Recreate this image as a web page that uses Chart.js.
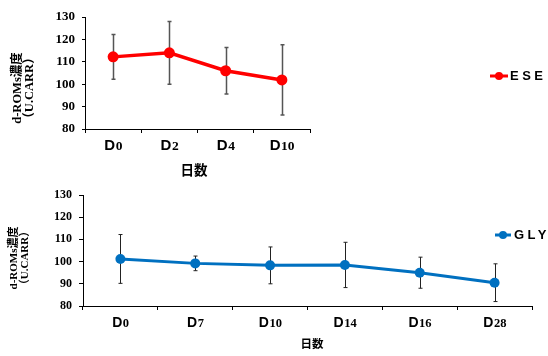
<!DOCTYPE html>
<html>
<head>
<meta charset="utf-8">
<script src="https://cdn.jsdelivr.net/npm/chart.js@4.4.1/dist/chart.umd.min.js"></script>
<style>
  html, body { margin: 0; padding: 0; background: #fff; }
  #wrap { position: relative; width: 548px; height: 356px; overflow: hidden; }
  .box { position: absolute; left: 0; }
</style>
</head>
<body>
<div id="wrap">
  <div class="box" style="top:0"><canvas id="ese" width="548" height="180"></canvas></div>
  <div class="box" style="top:180px"><canvas id="gly" width="548" height="176"></canvas></div>
</div>
<script>
// d-ROMs concentration (U.CARR), mean ± SD per sampling day
const eseDays = ['D0', 'D2', 'D4', 'D10'];
const eseMean = [112.2, 114.0, 106.0, 101.9];
const eseSD   = [10.0, 14.0, 10.4, 15.7];

const glyDays = ['D0', 'D7', 'D10', 'D14', 'D16', 'D28'];
const glyMean = [101.2, 99.2, 98.3, 98.5, 95.0, 90.5];
const glySD   = [11.0, 3.3, 8.3, 10.2, 7.0, 8.5];

const yTicks = [80, 90, 100, 110, 120, 130];
const yTitle = ['d-ROMs濃度', '（U.CARR）'];
const xTitle = '日数';

// Error bars, custom tick labels, axis titles and legend
const decorPlugin = {
  id: 'decor',
  beforeDatasetsDraw(chart, args, o) {
    const ctx = chart.ctx, xs = chart.scales.x, ys = chart.scales.y;
    const means = chart.data.datasets[0].data;
    ctx.save();
    ctx.strokeStyle = o.errColor;
    ctx.lineWidth = o.errWidth;
    means.forEach((m, i) => {
      const x = Math.round(xs.getPixelForValue(i)) + 0.5;
      const t = ys.getPixelForValue(m + o.sd[i]);
      const b = ys.getPixelForValue(m - o.sd[i]);
      ctx.beginPath();
      ctx.moveTo(x, t); ctx.lineTo(x, b);
      ctx.moveTo(x - 2, t); ctx.lineTo(x + 2, t);
      ctx.moveTo(x - 2, b); ctx.lineTo(x + 2, b);
      ctx.stroke();
    });
    ctx.restore();
  },
  afterDraw(chart, args, o) {
    const ctx = chart.ctx, xs = chart.scales.x;
    ctx.save();
    ctx.fillStyle = '#000';
    ctx.textBaseline = 'middle';
    // category labels: sans "D" + serif digits
    chart.data.labels.forEach((lab, i) => {
      const x = xs.getPixelForTick(i);
      const head = lab.slice(0, 1), num = lab.slice(1);
      const fHead = 'bold ' + o.labSize + 'px "Liberation Sans", Arial, sans-serif';
      const fNum = 'bold ' + (o.labSize - 1.5) + 'px "Liberation Serif", "Times New Roman", serif';
      ctx.font = fHead; const w1 = ctx.measureText(head).width;
      ctx.font = fNum; const w2 = ctx.measureText(num).width;
      const sx = x - (w1 + w2) / 2;
      ctx.textAlign = 'left';
      ctx.font = fHead; ctx.fillText(head, sx, o.labY);
      ctx.font = fNum; ctx.fillText(num, sx + w1 + 0.5, o.labY + 0.5);
    });
    // x title
    ctx.textAlign = 'center';
    ctx.font = 'bold ' + o.xtSize + 'px "Noto Sans CJK JP", sans-serif';
    ctx.fillText(xTitle, o.xtX, o.xtY);
    // y title, two rotated lines
    ctx.font = 'bold ' + o.ytSize + 'px "Liberation Serif", "Noto Sans CJK JP", serif';
    yTitle.forEach((line, k) => {
      ctx.save();
      ctx.translate(o.ytX[k], o.ytY);
      ctx.rotate(-Math.PI / 2);
      ctx.fillText(line, 0, 0);
      ctx.restore();
    });
    // legend
    const ds = chart.data.datasets[0];
    const L = o.legend;
    ctx.strokeStyle = ds.borderColor;
    ctx.lineWidth = 3;
    ctx.beginPath();
    ctx.moveTo(L.x0, L.y); ctx.lineTo(L.x1, L.y);
    ctx.stroke();
    ctx.fillStyle = ds.borderColor;
    ctx.beginPath();
    ctx.arc((L.x0 + L.x1) / 2, L.y, 4, 0, Math.PI * 2);
    ctx.fill();
    ctx.fillStyle = '#000';
    ctx.textAlign = 'left';
    ctx.font = 'bold 13px "Liberation Sans", Arial, sans-serif';
    ctx.letterSpacing = '3.5px';
    ctx.fillText(ds.label, L.tx, L.y + 0.5);
    ctx.restore();
  }
};

function makeChart(id, labels, mean, sd, color, lay) {
  return new Chart(document.getElementById(id), {
    type: 'line',
    data: {
      labels: labels,
      datasets: [{
        label: lay.name,
        data: mean,
        borderColor: color,
        backgroundColor: color,
        borderWidth: lay.lineW,
        pointRadius: lay.pointR,
        pointBorderWidth: 0,
        pointBackgroundColor: color,
        tension: 0
      }]
    },
    options: {
      responsive: false,
      animation: false,
      events: [],
      layout: { padding: { left: 0, top: lay.top, right: lay.right, bottom: 0 } },
      scales: {
        x: {
          type: 'category',
          offset: true,
          border: { display: true, color: '#000', width: 1 },
          grid: { offset: true, drawOnChartArea: false, drawTicks: true, tickLength: 4, color: '#000' },
          ticks: { display: false },
          afterFit: s => { s.height = lay.xH; }
        },
        y: {
          min: 80, max: 130,
          border: { display: true, color: '#000', width: 1 },
          grid: { drawOnChartArea: false, drawTicks: true, tickLength: lay.yTick, color: '#000' },
          afterBuildTicks: s => { s.ticks = yTicks.map(v => ({ value: v })); },
          ticks: {
            color: '#000',
            padding: lay.yPad,
            font: { family: '"Liberation Serif", "Times New Roman", serif', size: lay.yFont, weight: 'bold' }
          },
          afterFit: s => { s.width = lay.left; }
        }
      },
      plugins: {
        legend: { display: false },
        tooltip: { enabled: false },
        decor: lay.decor
      }
    },
    plugins: [decorPlugin]
  });
}

makeChart('ese', eseDays, eseMean, eseSD, '#FF0000', {
  name: 'ESE', lineW: 3.5, pointR: 5.5,
  top: 17, right: 238, xH: 51, left: 85, yTick: 3, yPad: 7, yFont: 13,
  decor: {
    sd: eseSD, errColor: '#555', errWidth: 1.5,
    labSize: 15, labY: 146,
    xtSize: 13.5, xtX: 194, xtY: 170,
    ytSize: 12.5, ytX: [18, 30], ytY: 88,
    legend: { x0: 490, x1: 508, y: 76, tx: 510 }
  }
});

makeChart('gly', glyDays, glyMean, glySD, '#0070C0', {
  name: 'GLY', lineW: 3, pointR: 5,
  top: 15, right: 16, xH: 50, left: 83, yTick: 4, yPad: 7, yFont: 12,
  decor: {
    sd: glySD, errColor: '#222', errWidth: 1,
    labSize: 14, labY: 143,
    xtSize: 11.5, xtX: 312, xtY: 164,
    ytSize: 11, ytX: [14, 25], ytY: 78,
    legend: { x0: 495, x1: 511, y: 55, tx: 514 }
  }
});
</script>
</body>
</html>
